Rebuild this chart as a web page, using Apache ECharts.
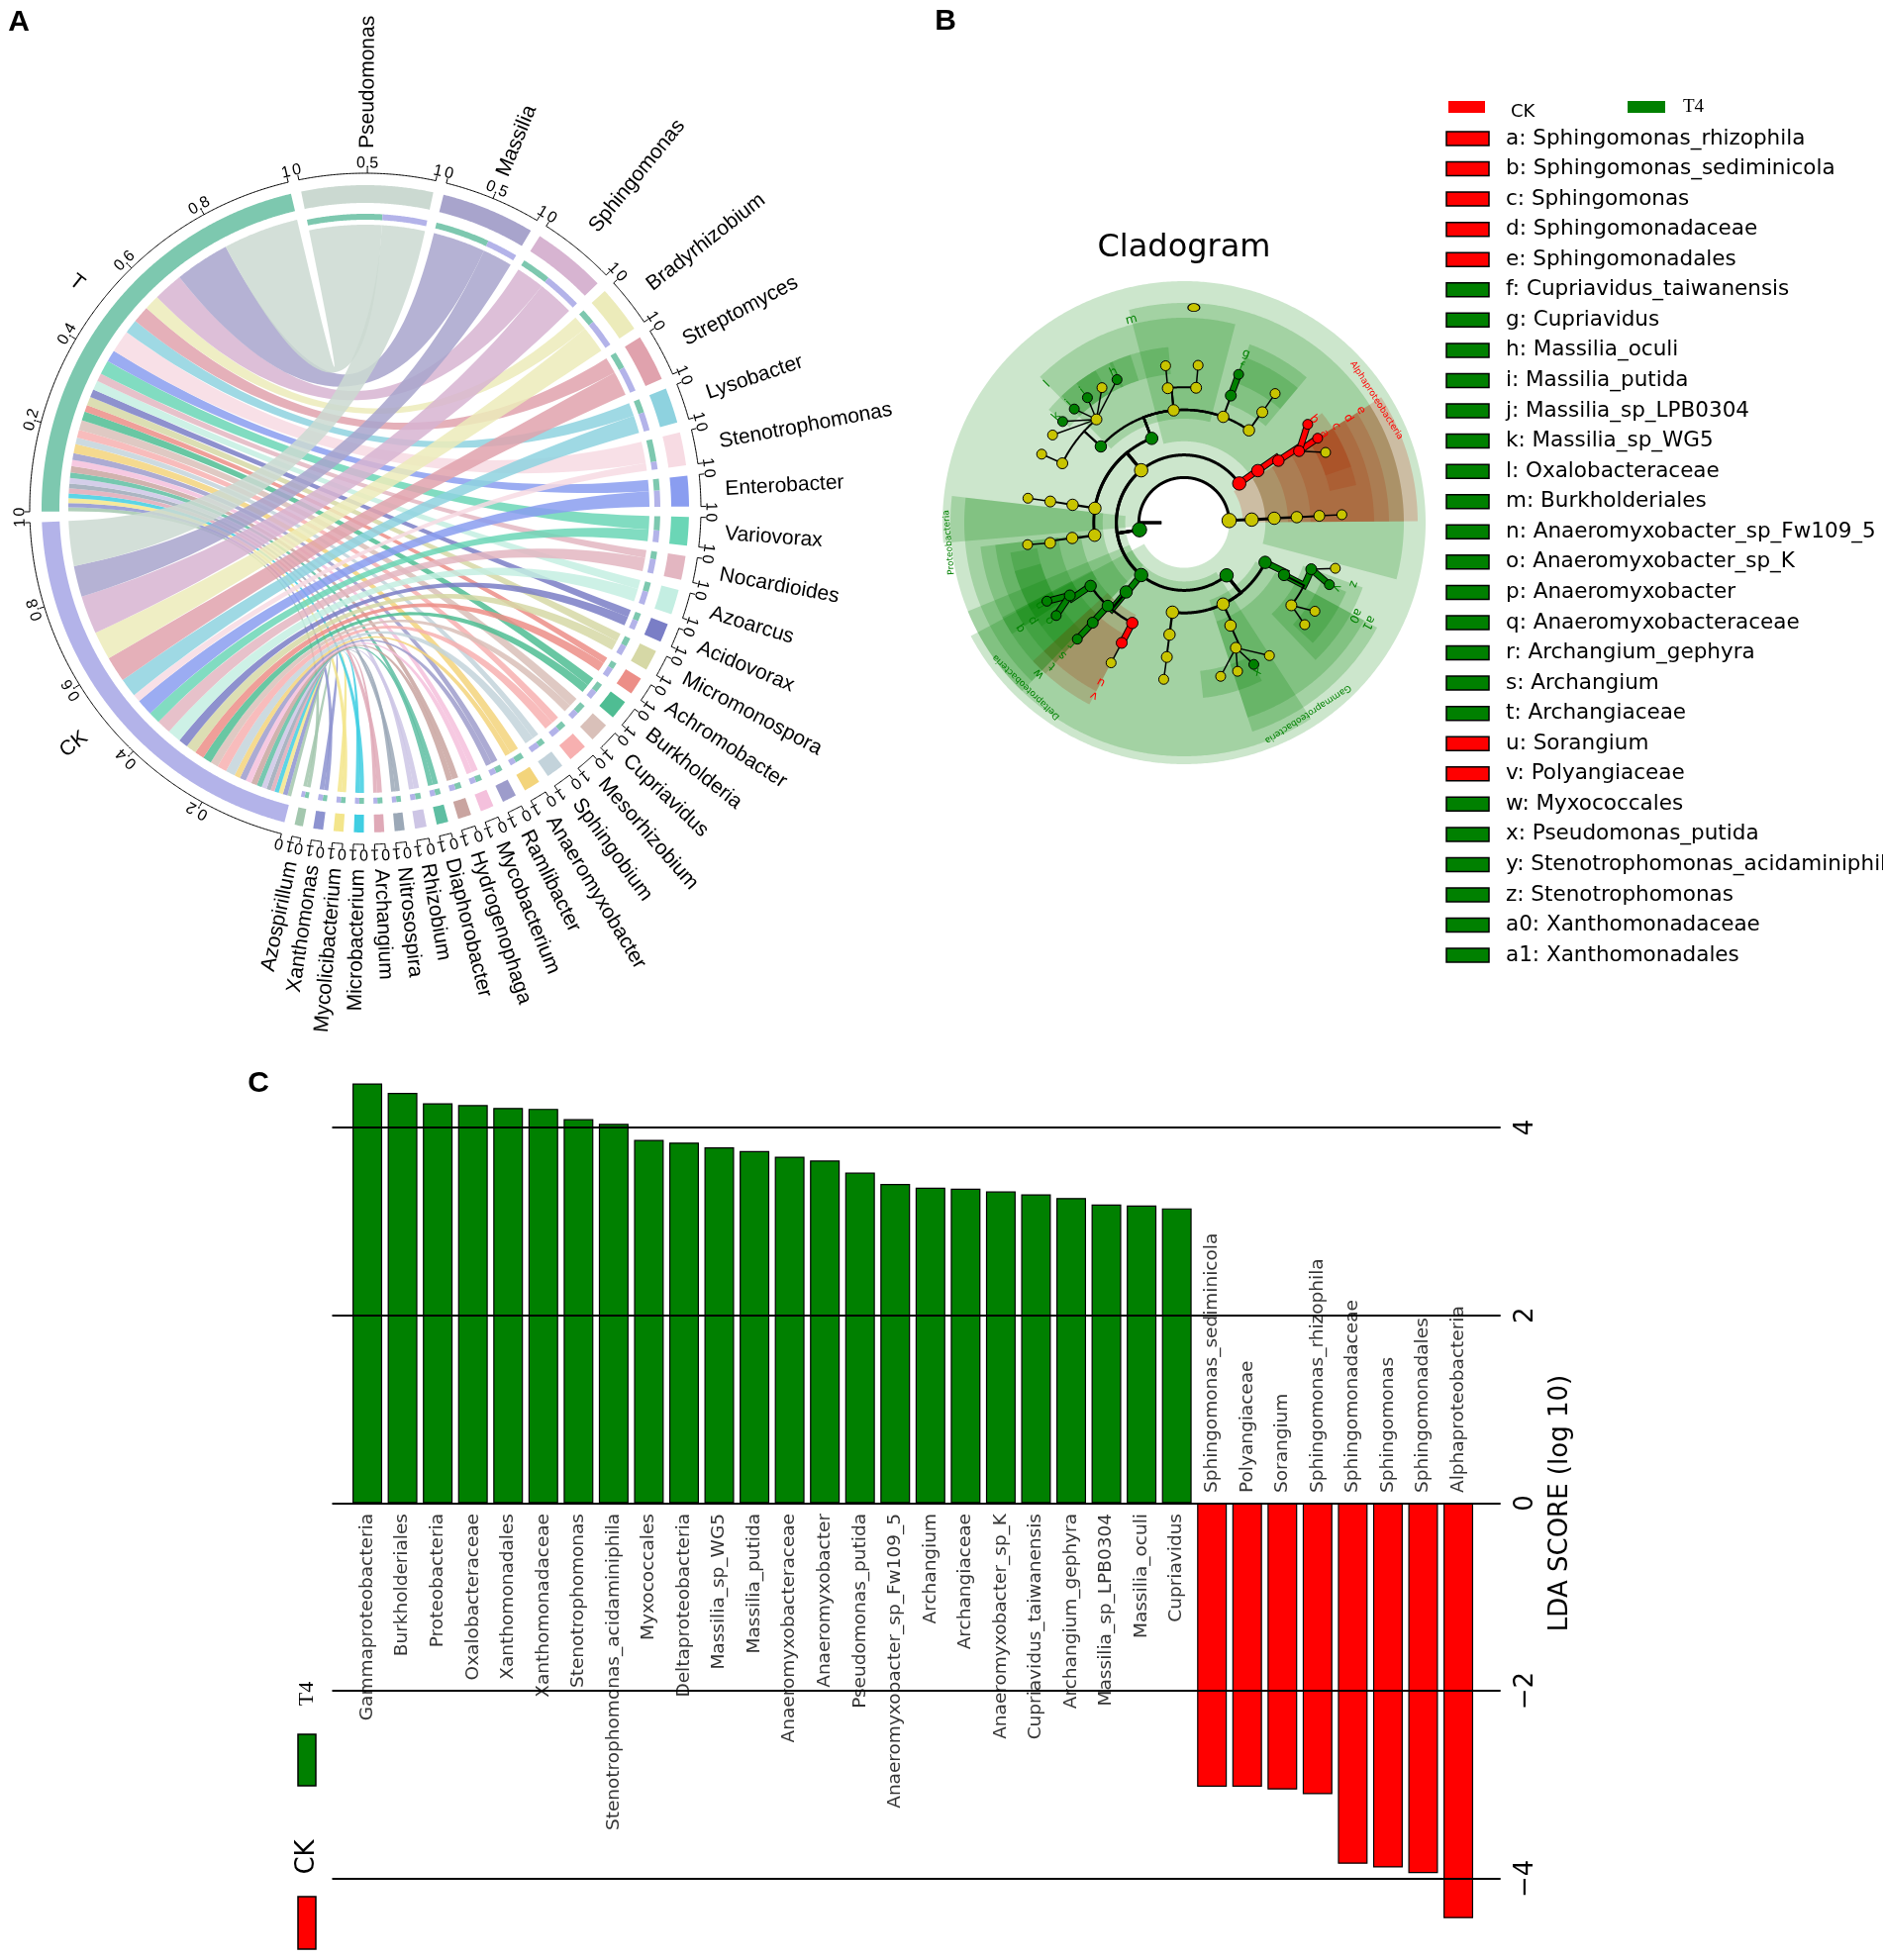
<!DOCTYPE html>
<html>
<head>
<meta charset="utf-8">
<title>Chord, cladogram and LDA</title>
<script src="https://cdn.jsdelivr.net/npm/echarts@6.0.0/dist/echarts.min.js"></script>
<style>
  html, body { margin: 0; padding: 0; background: #ffffff; }
  #main { width: 1902px; height: 1980px; }
</style>
</head>
<body>
<div id="main"></div>
<script>
/* ---------- A: genus chord, relative abundance (%) in T and CK ---------- */
var genera = ['Pseudomonas', 'Massilia', 'Sphingomonas', 'Bradyrhizobium', 'Streptomyces', 'Lysobacter',
  'Stenotrophomonas', 'Enterobacter', 'Variovorax', 'Nocardioides', 'Azoarcus', 'Acidovorax', 'Micromonospora',
  'Achromobacter', 'Burkholderia', 'Cupriavidus', 'Mesorhizobium', 'Sphingobium', 'Anaeromyxobacter', 'Ramlibacter',
  'Mycobacterium', 'Hydrogenophaga', 'Diaphorobacter', 'Rhizobium', 'Nitrosospira', 'Archangium', 'Microbacterium',
  'Mycolicibacterium', 'Xanthomonas', 'Azospirillum'];
var abundT = [19.2, 13.9, 7.5, 3.8, 4.3, 3.5, 5.7, 3.0, 3.6, 2.0, 2.4, 2.0, 2.2, 1.7, 2.3, 2.5, 2.0, 1.7, 2.3, 1.7,
  1.6, 1.6, 1.4, 1.4, 1.2, 1.3, 1.2, 1.2, 1.1, 1.0];
var abundCK = [11.4, 7.9, 9.7, 7.2, 6.5, 4.7, 2.0, 4.1, 3.0, 3.6, 3.4, 2.4, 2.6, 2.4, 2.2, 2.0, 2.4, 2.4, 1.5, 1.6,
  1.5, 1.5, 1.3, 1.3, 1.1, 1.0, 1.1, 1.1, 1.2, 0.95];
var genusColors = ['#cbd9d1', '#a8a4cc', '#d7b4d1', '#ecebba', '#e0a2ad', '#8ed2df', '#f7dbe3', '#8a9df0', '#6bd6b6',
  '#e3b6c1', '#c4eee2', '#7a7ec6', '#d6d8a6', '#ec8e87', '#4fbd93', '#d9c0b9', '#f7b0b0', '#c3d3db', '#f3d47b',
  '#9d9ccb', '#f4c0dc', '#c9a4a0', '#5ebea2', '#cdc5e5', '#9ba8b7', '#dfa9b7', '#40cee2', '#f3e58b', '#8d93d0', '#a3c7ae'];
var groupColors = { T: '#7dc8af', CK: '#b3b3e9' };

/* ---------- B: cladogram nodes [id, parent, level, angle, enriched in: 0 none, 1 T4, 2 CK] ---------- */
var cladeNodes = [
  ['root', '', 1, 180, 0],
  ['Proteobacteria', 'root', 2, 189, 1],
  ['ph2', 'root', 2, 2.7, 0], ['ph2c', 'ph2', 3, 2.6, 0], ['ph2o', 'ph2c', 4, 2.8, 0],
  ['ph2f', 'ph2o', 5, 2.8, 0], ['ph2g', 'ph2f', 6, 2.9, 0], ['ph2s', 'ph2g', 7, 2.9, 0],
  ['Alphaproteobacteria', 'Proteobacteria', 3, 35.4, 2],
  ['e', 'Alphaproteobacteria', 4, 35.2, 2], ['d', 'e', 5, 33.3, 2], ['c', 'd', 6, 31.9, 2],
  ['a', 'c', 7, 32.3, 2], ['b', 'c', 7, 38.5, 2], ['c_s3', 'c', 7, 26.4, 0],
  ['beta', 'Proteobacteria', 3, 129.3, 0],
  ['m', 'beta', 4, 111, 1],
  ['l', 'm', 5, 137.5, 1],
  ['l_g1', 'l', 6, 154, 0], ['l_g1s', 'l_g1', 7, 154.3, 0],
  ['massilia', 'l', 6, 130.3, 0],
  ['mas_s1', 'massilia', 7, 146.3, 0], ['k', 'massilia', 7, 140.2, 1], ['j', 'massilia', 7, 134, 1],
  ['i', 'massilia', 7, 127.7, 1], ['mas_s2', 'massilia', 7, 121.3, 0], ['h', 'massilia', 7, 115.1, 1],
  ['m_f2', 'm', 5, 95.3, 0], ['m_f2g1', 'm_f2', 6, 96.9, 0], ['m_f2g1s', 'm_f2g1', 7, 96.7, 0],
  ['m_f2g2', 'm_f2', 6, 84.9, 0], ['m_f2g2s', 'm_f2g2', 7, 84.9, 0],
  ['m_f3', 'm', 5, 69.7, 0], ['g', 'm_f3', 6, 69.8, 1], ['f', 'g', 7, 69.8, 1],
  ['m_f4', 'm', 5, 54.9, 0], ['m_f4g', 'm_f4', 6, 54.7, 0], ['m_f4s', 'm_f4g', 7, 54.8, 0],
  ['b_o2', 'beta', 4, 170.8, 0], ['b_o2f', 'b_o2', 5, 170.9, 0], ['b_o2g', 'b_o2f', 6, 171, 0], ['b_o2s', 'b_o2g', 7, 171.1, 0],
  ['b_o3', 'beta', 4, 188, 0], ['b_o3f', 'b_o3', 5, 187.8, 0], ['b_o3g', 'b_o3f', 6, 188.6, 0], ['b_o3s', 'b_o3g', 7, 188, 0],
  ['Deltaproteobacteria', 'Proteobacteria', 3, 230.7, 1],
  ['w', 'Deltaproteobacteria', 4, 230.1, 1],
  ['q', 'w', 5, 214.1, 1], ['p', 'q', 6, 212.5, 1], ['n', 'p', 7, 209.8, 1], ['o', 'p', 7, 216, 1],
  ['t', 'w', 5, 227.5, 1], ['s', 't', 6, 227.6, 1], ['r', 's', 7, 227.5, 1],
  ['v', 'w', 5, 242.7, 2], ['u', 'v', 6, 242.6, 2], ['u_s', 'u', 7, 242.5, 0],
  ['Gammaproteobacteria', 'Proteobacteria', 3, 308.9, 1],
  ['g_o1', 'Gammaproteobacteria', 4, 262.6, 0], ['g_o1f', 'g_o1', 5, 262.6, 0], ['g_o1g', 'g_o1f', 6, 262.7, 0], ['g_o1s', 'g_o1g', 7, 262.6, 0],
  ['g_o2', 'Gammaproteobacteria', 4, 295.6, 0], ['g_o2f', 'g_o2', 5, 294.3, 0], ['g_o2g', 'g_o2f', 6, 292.5, 0],
  ['g_o2s1', 'g_o2g', 7, 283.4, 0], ['g_o2s2', 'g_o2g', 7, 289.8, 0], ['x', 'g_o2g', 7, 296.2, 1], ['g_o2s4', 'g_o2g', 7, 302.7, 0],
  ['a1', 'Gammaproteobacteria', 4, 333.9, 1], ['a0', 'a1', 5, 332.4, 1],
  ['z', 'a0', 6, 339.9, 1], ['y', 'z', 7, 336.9, 1], ['z_s2', 'z', 7, 343.2, 0],
  ['a0_g2', 'a0', 6, 322.4, 0], ['a0_g2s1', 'a0_g2', 7, 325.9, 0], ['a0_g2s2', 'a0_g2', 7, 319.8, 0],
  ['lone', '', 9.54, 87.4, 0]
];
var legendLetters = ['a', 'b', 'c', 'd', 'e', 'f', 'g', 'h', 'i', 'j', 'k', 'l', 'm', 'n', 'o', 'p', 'q', 'r', 's', 't',
  'u', 'v', 'w', 'x', 'y', 'z', 'a0', 'a1'];
var legendNames = ['Sphingomonas_rhizophila', 'Sphingomonas_sediminicola', 'Sphingomonas', 'Sphingomonadaceae',
  'Sphingomonadales', 'Cupriavidus_taiwanensis', 'Cupriavidus', 'Massilia_oculi', 'Massilia_putida',
  'Massilia_sp_LPB0304', 'Massilia_sp_WG5', 'Oxalobacteraceae', 'Burkholderiales', 'Anaeromyxobacter_sp_Fw109_5',
  'Anaeromyxobacter_sp_K', 'Anaeromyxobacter', 'Anaeromyxobacteraceae', 'Archangium_gephyra', 'Archangium',
  'Archangiaceae', 'Sorangium', 'Polyangiaceae', 'Myxococcales', 'Pseudomonas_putida',
  'Stenotrophomonas_acidaminiphila', 'Stenotrophomonas', 'Xanthomonadaceae', 'Xanthomonadales'];
var legendGroups = ['CK', 'CK', 'CK', 'CK', 'CK', 'T4', 'T4', 'T4', 'T4', 'T4', 'T4', 'T4', 'T4', 'T4', 'T4', 'T4',
  'T4', 'T4', 'T4', 'T4', 'CK', 'CK', 'T4', 'T4', 'T4', 'T4', 'T4', 'T4'];

/* ---------- C: LDA scores ---------- */
var ldaNames = ['Gammaproteobacteria', 'Burkholderiales', 'Proteobacteria', 'Oxalobacteraceae', 'Xanthomonadales',
  'Xanthomonadaceae', 'Stenotrophomonas', 'Stenotrophomonas_acidaminiphila', 'Myxococcales', 'Deltaproteobacteria',
  'Massilia_sp_WG5', 'Massilia_putida', 'Anaeromyxobacteraceae', 'Anaeromyxobacter', 'Pseudomonas_putida',
  'Anaeromyxobacter_sp_Fw109_5', 'Archangium', 'Archangiaceae', 'Anaeromyxobacter_sp_K', 'Cupriavidus_taiwanensis',
  'Archangium_gephyra', 'Massilia_sp_LPB0304', 'Massilia_oculi', 'Cupriavidus',
  'Sphingomonas_sediminicola', 'Polyangiaceae', 'Sorangium', 'Sphingomonas_rhizophila', 'Sphingomonadaceae',
  'Sphingomonas', 'Sphingomonadales', 'Alphaproteobacteria'];
var ldaScores = [4.47, 4.37, 4.26, 4.24, 4.21, 4.20, 4.09, 4.04, 3.87, 3.84, 3.79, 3.75, 3.69, 3.65, 3.52, 3.40,
  3.36, 3.35, 3.32, 3.29, 3.25, 3.18, 3.17, 3.14, -3.02, -3.02, -3.05, -3.10, -3.84, -3.88, -3.94, -4.42];
var ldaTicks = [-4, -2, 0, 2, 4];

var FONT_A = '"Liberation Sans", Arial, sans-serif';
var FONT_B = '"DejaVu Sans", sans-serif';

/* ---- chord layout ---- */
var chordNames = ['T'].concat(genera, ['CK']);
var sumT = 0, sumCK = 0;
genera.forEach(function (g, i) { sumT += abundT[i]; sumCK += abundCK[i]; });
var chordSizes = [sumT];
genera.forEach(function (g, i) { chordSizes.push(abundT[i] + abundCK[i]); });
chordSizes.push(sumCK);
var chordTotal = 0;
chordSizes.forEach(function (s) { chordTotal += s; });
var GAP_DEG = 1.85;
var angleMax = chordTotal / (1 - chordSizes.length * GAP_DEG / 360);
var gapUnit = angleMax * GAP_DEG / 360;
var chordSectors = [];
var cursor = 0;
chordSizes.forEach(function (s, k) {
  chordSectors.push({ name: chordNames[k], start: cursor, end: cursor + s, genus: (k > 0 && k <= genera.length) ? k - 1 : -1 });
  cursor += s + gapUnit;
});
var chordLinks = [];
var tCur = chordSectors[0].start, ckCur = chordSectors[chordSectors.length - 1].start;
for (var gi = genera.length - 1; gi >= 0; gi--) {
  var sec = chordSectors[gi + 1];
  chordLinks.push({ g0: sec.start, g1: sec.start + abundT[gi], b0: tCur, b1: tCur + abundT[gi], color: genusColors[gi] });
  tCur += abundT[gi];
  chordLinks.push({ g0: sec.start + abundT[gi], g1: sec.end, b0: ckCur, b1: ckCur + abundCK[gi], color: genusColors[gi] });
  ckCur += abundCK[gi];
}
var RA = { ribG: 287, ribS: 300, trk0: 292, trk1: 298, band0: 309, band1: 327, axis: 339, tick: 344, tickLab: 349, name: 364 };

function arcPts(api, r, a0, a1, step) {
  var n = Math.max(2, Math.ceil(Math.abs(a1 - a0) / step));
  var pts = [];
  for (var k = 0; k <= n; k++) pts.push(api.coord([r, a0 + (a1 - a0) * k / n]));
  return pts;
}
function bandPts(api, r0, r1, a0, a1, step) {
  return arcPts(api, r1, a0, a1, step).concat(arcPts(api, r0, a1, a0, step));
}
function quadPts(p0, c, p2, n) {
  var out = [];
  for (var k = 1; k < n; k++) {
    var t = k / n, u = 1 - t;
    out.push([u * u * p0[0] + 2 * u * t * c[0] + t * t * p2[0], u * u * p0[1] + 2 * u * t * c[1] + t * t * p2[1]]);
  }
  return out;
}
function screenAngle(c, p) {
  var th = Math.atan2(p[0] - c[0], c[1] - p[1]);
  return th < 0 ? th + 2 * Math.PI : th;
}
function txt(x, y, rot, text, size, family, align, color) {
  return { type: 'text', x: x, y: y, rotation: rot, z2: 50,
    style: { text: text, fill: color || '#000', fontSize: size, fontFamily: family,
      align: align, textAlign: align, verticalAlign: 'middle', textVerticalAlign: 'middle' } };
}

function renderRibbon(params, api) {
  var lk = chordLinks[api.value(2)];
  var c = api.coord([0, 0]);
  var step = angleMax / 1440;
  var ga = arcPts(api, RA.ribG, lk.g0, lk.g1, step);
  var gb = arcPts(api, RA.ribS, lk.b0, lk.b1, step);
  var pts = ga.concat(quadPts(ga[ga.length - 1], c, gb[0], 40), gb, quadPts(gb[gb.length - 1], c, ga[0], 40));
  return { type: 'polygon', shape: { points: pts }, style: { fill: echarts.color.modifyAlpha(lk.color, 0.85) } };
}

function renderChordSector(params, api) {
  var s = chordSectors[api.value(2)];
  var step = angleMax / 1440;
  var c = api.coord([0, 0]);
  var kids = [];
  var color = s.genus >= 0 ? genusColors[s.genus] : groupColors[s.name];
  kids.push({ type: 'polygon', shape: { points: bandPts(api, RA.band0, RA.band1, s.start, s.end, step) }, style: { fill: color } });
  if (s.genus >= 0) {
    var mid = s.start + abundT[s.genus];
    kids.push({ type: 'polygon', shape: { points: bandPts(api, RA.trk0, RA.trk1, s.start, mid, step) }, style: { fill: groupColors.T } });
    kids.push({ type: 'polygon', shape: { points: bandPts(api, RA.trk0, RA.trk1, mid, s.end, step) }, style: { fill: groupColors.CK } });
  }
  kids.push({ type: 'polyline', shape: { points: arcPts(api, RA.axis, s.start, s.end, step) }, style: { stroke: '#000', lineWidth: 1, fill: null } });
  var spanDeg = (s.end - s.start) / angleMax * 360;
  var ticks = s.genus < 0 ? [0, 0.2, 0.4, 0.6, 0.8, 1] : (spanDeg > 15 ? [0, 0.5, 1] : [0, 1]);
  ticks.forEach(function (t) {
    var a = s.start + (s.end - s.start) * t;
    var p0 = api.coord([RA.axis, a]), p1 = api.coord([RA.tick, a]), pl = api.coord([RA.tickLab, a]);
    kids.push({ type: 'line', shape: { x1: p0[0], y1: p0[1], x2: p1[0], y2: p1[1] }, style: { stroke: '#000', lineWidth: 1 } });
    kids.push(txt(pl[0], pl[1], -screenAngle(c, pl), String(t), 16, FONT_A, 'center'));
  });
  var pn = api.coord([RA.name, (s.start + s.end) / 2]);
  var th = screenAngle(c, pn);
  var right = th < Math.PI;
  kids.push(txt(pn[0], pn[1], right ? Math.PI / 2 - th : 3 * Math.PI / 2 - th, s.name, 21, FONT_A, right ? 'left' : 'right'));
  return { type: 'group', children: kids };
}

/* ---- cladogram layout ---- */
var LEVEL_PX = 22.8;
var cladeMap = {};
cladeNodes.forEach(function (n) { cladeMap[n[0]] = { id: n[0], parent: n[1], level: n[2], angle: n[3], cls: n[4], kids: [] }; });
cladeNodes.forEach(function (n) { if (n[1]) cladeMap[n[1]].kids.push(n[0]); });
function leafAngles(id) {
  var nd = cladeMap[id];
  if (!nd.kids.length) return [nd.angle];
  var out = [];
  nd.kids.forEach(function (k) { out = out.concat(leafAngles(k)); });
  return out;
}
function norm360(a) { return ((a % 360) + 360) % 360; }
var WEDGE_PAD = 10;
var wedgeOuter = { 2: 244, 3: 236, 4: 222, 5: 207, 6: 192, 7: 178 };
var cladeWedges = [];
cladeNodes.forEach(function (n) {
  if (!n[4]) return;
  var la = leafAngles(n[0]);
  var mn = Math.min.apply(null, la), mx = Math.max.apply(null, la);
  var c0 = mn - WEDGE_PAD, w = mx - mn + 2 * WEDGE_PAD;
  cladeWedges.push({ id: n[0], level: n[2], cls: n[4], a0: c0 - w / 2, a1: c0 + w / 2,
    r0: n[2] === 2 ? n[2] : n[2] - 9 / LEVEL_PX, r1: wedgeOuter[n[2]] / LEVEL_PX });
});
cladeWedges.sort(function (p, q) { return q.level - p.level; });

function renderWedge(params, api) {
  var w = cladeWedges[api.value(2)];
  var n = Math.max(2, Math.ceil((w.a1 - w.a0) / 0.5));
  var pts = [], k;
  for (k = 0; k <= n; k++) pts.push(api.coord([w.r1, norm360(w.a0 + (w.a1 - w.a0) * k / n)]));
  for (k = n; k >= 0; k--) pts.push(api.coord([w.r0, norm360(w.a0 + (w.a1 - w.a0) * k / n)]));
  return { type: 'polygon', shape: { points: pts },
    style: { fill: w.cls === 2 ? 'rgba(255,0,0,0.2)' : 'rgba(0,128,0,0.2)' } };
}
function renderWedgeLabel(params, api) {
  var w = cladeWedges[api.value(2)];
  var full = w.id.length > 2;
  var pl = api.coord([full ? w.r1 - 0.25 : w.r1 - 0.45, norm360(w.a1)]);
  return txt(pl[0], pl[1], (w.a1 - 90) * Math.PI / 180, w.id, full ? 9 : 12, FONT_B, 'center',
    w.cls === 2 ? '#ff0000' : '#008000');
}

var cladeEdgeNodes = cladeNodes.filter(function (n) { return n[1]; });
function renderEdge(params, api) {
  var nd = cladeMap[cladeEdgeNodes[api.value(2)][0]];
  var pa = cladeMap[nd.parent];
  var pts;
  if (nd.level >= 7) pts = [api.coord([pa.level, pa.angle]), api.coord([nd.level, nd.angle])];
  else pts = [api.coord([pa.level, pa.angle])].concat(arcPts(api, nd.level, pa.angle, nd.angle, 0.5));
  var lw = nd.level <= 4 ? 3 : (nd.level === 5 ? 2.4 : (nd.level === 6 ? 2 : 1.5));
  var same = pa.cls > 0 && pa.cls === nd.cls && Math.abs(pa.angle - nd.angle) < 10;
  if (!same) return { type: 'polyline', shape: { points: pts }, style: { stroke: '#000', lineWidth: lw, fill: null } };
  return { type: 'group', children: [
    { type: 'polyline', shape: { points: pts }, style: { stroke: '#000', lineWidth: 7, fill: null } },
    { type: 'polyline', shape: { points: pts }, style: { stroke: nd.cls === 2 ? '#ff0000' : '#008000', lineWidth: 5, fill: null } }
  ] };
}
var dotSize = { 2: 14.5, 3: 13.5, 4: 12.5, 5: 11.5, 6: 11, 7: 10 };
var dotColors = ['#c8c400', '#008000', '#ff0000'];
var cladeDots = cladeNodes.filter(function (n) { return n[0] !== 'root'; });

/* ---- static texts, legends ---- */
var graphics = [];
function gText(x, y, text, font, align, rot) {
  return { type: 'text', x: x, y: y, rotation: rot || 0,
    style: { text: text, font: font, fill: '#000', align: align || 'left', textAlign: align || 'left',
      verticalAlign: 'middle', textVerticalAlign: 'middle' } };
}
graphics.push(gText(19, 23, 'A', 'bold 30px ' + FONT_A, 'center'));
graphics.push(gText(955, 22, 'B', 'bold 30px ' + FONT_A, 'center'));
graphics.push(gText(261, 1095, 'C', 'bold 30px ' + FONT_A, 'center'));
graphics.push(gText(1196, 251, 'Cladogram', '32px ' + FONT_B, 'center'));

graphics.push({ type: 'rect', shape: { x: 1463, y: 102, width: 37, height: 12 }, style: { fill: '#ff0000' } });
graphics.push(gText(1526, 113, 'CK', '18px ' + FONT_B, 'left'));
graphics.push({ type: 'rect', shape: { x: 1644, y: 102, width: 38, height: 12 }, style: { fill: '#008000' } });
graphics.push(gText(1700, 108, 'T4', '19px "Liberation Serif", serif', 'left'));
legendLetters.forEach(function (lt, i) {
  var cy = 140 + i * 30.56;
  graphics.push({ type: 'rect', shape: { x: 1461, y: cy - 7, width: 43, height: 14 },
    style: { fill: legendGroups[i] === 'CK' ? '#ff0000' : '#008000', stroke: '#000', lineWidth: 1.5 } });
  graphics.push(gText(1521, cy, lt + ': ' + legendNames[i], '21.5px ' + FONT_B, 'left'));
});

graphics.push({ type: 'rect', shape: { x: 301, y: 1752, width: 18, height: 52 }, style: { fill: '#008000', stroke: '#000', lineWidth: 1.5 } });
graphics.push(gText(310, 1711, 'T4', '22px "Liberation Serif", serif', 'center', Math.PI / 2));
graphics.push({ type: 'rect', shape: { x: 301, y: 1916, width: 18, height: 53 }, style: { fill: '#ff0000', stroke: '#000', lineWidth: 1.5 } });
graphics.push(gText(310, 1876, 'CK', '26px ' + FONT_B, 'center', Math.PI / 2));

var chart = echarts.init(document.getElementById('main'), null, { renderer: 'canvas', width: 1902, height: 1980 });
var hidden = { show: false };
var option = {
  animation: false,
  backgroundColor: '#ffffff',
  textStyle: { fontFamily: FONT_B },
  polar: [
    { center: [369, 514], radius: 400 },
    { center: [1196, 528], radius: 244 }
  ],
  angleAxis: [
    { polarIndex: 0, type: 'value', min: 0, max: angleMax, startAngle: 180.5, clockwise: true,
      axisLine: hidden, axisTick: hidden, axisLabel: hidden, splitLine: hidden },
    { polarIndex: 1, type: 'value', min: 0, max: 360, startAngle: 0, clockwise: false,
      axisLine: hidden, axisTick: hidden, axisLabel: hidden, splitLine: hidden }
  ],
  radiusAxis: [
    { polarIndex: 0, type: 'value', min: 0, max: 400, axisLine: hidden, axisTick: hidden, axisLabel: hidden, splitLine: hidden },
    { polarIndex: 1, type: 'value', min: 0, max: 244 / LEVEL_PX, axisLine: hidden, axisTick: hidden, axisLabel: hidden, splitLine: hidden }
  ],
  grid: [{ left: 335.5, top: 1072.7, width: 1180.2, height: 891.6 }],
  xAxis: [{ type: 'value', min: -1, max: 32.2, show: false }],
  yAxis: [{
    type: 'value', min: -4.7, max: 4.7, position: 'right',
    axisLine: hidden, axisTick: hidden, splitLine: hidden,
    axisLabel: {
      customValues: ldaTicks, rotate: 90, margin: 13, fontSize: 26, color: '#000', fontFamily: FONT_B,
      formatter: function (v) {
        if (ldaTicks.indexOf(v) < 0) return '';
        return v < 0 ? '\u2212' + (-v) : String(v);
      }
    },
    name: 'LDA SCORE (log 10)', nameLocation: 'middle', nameRotate: 90, nameGap: 48,
    nameTextStyle: { fontSize: 26, color: '#000', fontFamily: FONT_B }
  }],
  series: [
    { type: 'custom', coordinateSystem: 'polar', polarIndex: 0, z: 2, clip: false, silent: true,
      renderItem: renderRibbon, encode: { radius: 0, angle: 1 },
      data: chordLinks.map(function (lk, k) { return [RA.ribG, lk.g0, k]; }) },
    { type: 'custom', coordinateSystem: 'polar', polarIndex: 0, z: 3, clip: false, silent: true,
      renderItem: renderChordSector, encode: { radius: 0, angle: 1 },
      data: chordSectors.map(function (s, k) { return [RA.band0, s.start, k]; }) },
    { type: 'custom', coordinateSystem: 'polar', polarIndex: 1, z: 2, clip: false, silent: true,
      renderItem: renderWedge, encode: { radius: 0, angle: 1 },
      data: cladeWedges.map(function (w, k) { return [w.r1, norm360(w.a0), k]; }) },
    { type: 'custom', coordinateSystem: 'polar', polarIndex: 1, z: 3, clip: false, silent: true,
      renderItem: renderWedgeLabel, encode: { radius: 0, angle: 1 },
      data: cladeWedges.map(function (w, k) { return [w.r1, norm360(w.a1), k]; }) },
    { type: 'custom', coordinateSystem: 'polar', polarIndex: 1, z: 4, clip: false, silent: true,
      renderItem: renderEdge, encode: { radius: 0, angle: 1 },
      data: cladeEdgeNodes.map(function (n, k) { return [n[2], n[3], k]; }) },
    { type: 'scatter', coordinateSystem: 'polar', polarIndex: 1, z: 5, silent: true,
      data: cladeDots.map(function (n) { return [n[2], n[3], n[4], n[1] ? 0 : 1]; }),
      symbolSize: function (v) { return v[3] ? [12, 8] : dotSize[Math.round(v[0])]; },
      itemStyle: { color: function (p) { return dotColors[p.value[2]]; }, borderColor: '#000', borderWidth: 1, opacity: 1 },
      emphasis: { disabled: true } },
    { type: 'bar', xAxisIndex: 0, yAxisIndex: 0, barWidth: 30, silent: true,
      data: ldaScores.map(function (v, i) {
        return { value: [i, v], itemStyle: { color: v > 0 ? '#008000' : '#ff0000' } };
      }),
      itemStyle: { borderColor: '#000', borderWidth: 1.2 },
      markLine: { silent: true, symbol: ['none', 'none'], label: { show: false },
        lineStyle: { color: '#000', width: 2, type: 'solid' },
        data: ldaTicks.map(function (t) { return { yAxis: t }; }) } },
    { type: 'scatter', xAxisIndex: 0, yAxisIndex: 0, symbolSize: 1, silent: true,
      itemStyle: { color: 'rgba(0,0,0,0)' },
      data: ldaScores.map(function (v, i) {
        return { value: [i, 0], label: v > 0 ? { position: 'bottom', align: 'right' } : { position: 'top', align: 'left' } };
      }),
      label: { show: true, rotate: 90, verticalAlign: 'middle', distance: 10, fontSize: 18.5, fontFamily: FONT_B, color: '#000',
        formatter: function (p) { return ldaNames[p.dataIndex]; } } }
  ],
  graphic: { elements: graphics }
};
chart.setOption(option);
</script>
</body>
</html>
